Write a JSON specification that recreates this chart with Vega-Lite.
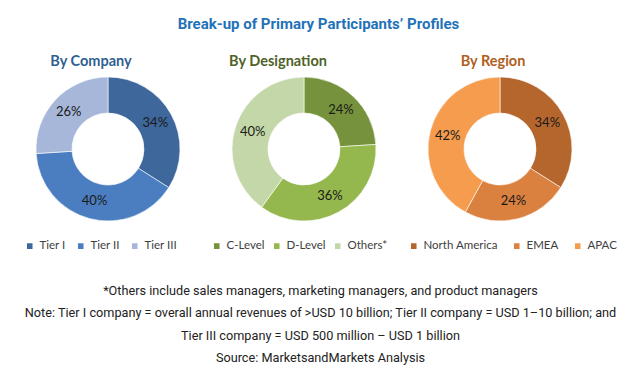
{
  "$schema": "https://vega.github.io/schema/vega-lite/v6.json",
  "background": "white",
  "padding": {"left": 18, "top": 16, "right": 5, "bottom": 5},
  "title": {
    "text": "Break-up of Primary Participants’ Profiles",
    "font": "Roboto",
    "fontSize": 15,
    "fontWeight": "bold",
    "color": "#1F72B8",
    "anchor": "middle",
    "frame": "bounds",
    "dx": 1,
    "offset": 22
  },
  "vconcat": [
    {
      "bounds": "flush",
      "spacing": 16,
      "resolve": {"scale": {"color": "independent", "theta": "independent"}, "legend": {"color": "independent"}},
      "title": {
        "text": [
          "*Others include sales managers, marketing managers, and product managers",
          "Note: Tier I company = overall annual revenues of >USD 10 billion; Tier II company = USD 1–10 billion; and",
          "Tier III company = USD 500 million – USD 1 billion",
          "Source: MarketsandMarkets Analysis"
        ],
        "orient": "bottom",
        "anchor": "middle",
        "frame": "bounds",
        "dx": 3,
        "offset": 32,
        "lineHeight": 22.3,
        "font": "Roboto",
        "fontSize": 12.7,
        "fontWeight": "normal",
        "color": "#222222"
      },
      "hconcat": [
        {
          "width": 180,
          "height": 150,
          "title": {"text": "By Company", "color": "#2F5F92", "dx": -17, "frame": "group"},
          "data": {"values": [
            {"tier": "Tier I", "share": 0.34},
            {"tier": "Tier II", "share": 0.40},
            {"tier": "Tier III", "share": 0.26}
          ]},
          "encoding": {
            "theta": {"field": "share", "type": "quantitative", "stack": true},
            "order": {"field": "tier", "sort": "ascending"}
          },
          "layer": [
            {
              "mark": {"type": "arc", "innerRadius": 36, "outerRadius": 72, "stroke": "#ffffff", "strokeWidth": 0.6},
              "encoding": {
                "color": {"field": "tier", "type": "nominal",
                  "scale": {"domain": ["Tier I", "Tier II", "Tier III"], "range": ["#3E679C", "#4A7EC0", "#A6B7DA"]},
                  "legend": {"title": null, "orient": "none", "legendX": 6, "legendY": 166, "columnPadding": 8}}
              }
            },
            {
              "mark": {"type": "text", "radius": 54, "font": "Lato", "fontSize": 13, "color": "#1a1a1a"},
              "encoding": {"text": {"field": "share", "type": "quantitative", "format": ".0%"}}
            }
          ]
        },
        {
          "width": 180,
          "height": 150,
          "title": {"text": "By Designation", "color": "#4F6228", "dx": -26, "frame": "group"},
          "data": {"values": [
            {"level": "C-Level", "share": 0.24},
            {"level": "D-Level", "share": 0.36},
            {"level": "Others*", "share": 0.40}
          ]},
          "encoding": {
            "theta": {"field": "share", "type": "quantitative", "stack": true},
            "order": {"field": "level", "sort": "ascending"}
          },
          "layer": [
            {
              "mark": {"type": "arc", "innerRadius": 36, "outerRadius": 72, "stroke": "#ffffff", "strokeWidth": 0.6},
              "encoding": {
                "color": {"field": "level", "type": "nominal",
                  "scale": {"domain": ["C-Level", "D-Level", "Others*"], "range": ["#76923C", "#94B84E", "#C4D7A8"]},
                  "legend": {"title": null, "orient": "none", "legendX": -3, "legendY": 166, "columnPadding": 5}}
              }
            },
            {
              "mark": {"type": "text", "radius": 54, "font": "Lato", "fontSize": 13, "color": "#1a1a1a"},
              "encoding": {"text": {"field": "share", "type": "quantitative", "format": ".0%"}}
            }
          ]
        },
        {
          "width": 180,
          "height": 150,
          "title": {"text": "By Region", "color": "#B0601E", "dx": -7, "frame": "group"},
          "data": {"values": [
            {"region": "North America", "share": 0.34},
            {"region": "EMEA", "share": 0.24},
            {"region": "APAC", "share": 0.42}
          ]},
          "encoding": {
            "theta": {"field": "share", "type": "quantitative", "stack": true},
            "order": {"field": "region", "sort": "descending"}
          },
          "layer": [
            {
              "mark": {"type": "arc", "innerRadius": 36, "outerRadius": 72, "stroke": "#ffffff", "strokeWidth": 0.6},
              "encoding": {
                "color": {"field": "region", "type": "nominal",
                  "scale": {"domain": ["North America", "EMEA", "APAC"], "range": ["#B5662D", "#DB8140", "#F59C4F"]},
                  "legend": {"title": null, "orient": "none", "legendX": -2, "legendY": 166, "columnPadding": 12}}
              }
            },
            {
              "mark": {"type": "text", "radius": 54, "font": "Lato", "fontSize": 13, "color": "#1a1a1a"},
              "encoding": {"text": {"field": "share", "type": "quantitative", "format": ".0%"}}
            }
          ]
        }
      ]
    }
  ],
  "config": {
    "view": {"stroke": null},
    "title": {"font": "Lato", "fontSize": 14.5, "fontWeight": "bold", "offset": 5},
    "legend": {
      "direction": "horizontal",
      "symbolType": "square",
      "symbolSize": 50,
      "labelFont": "Lato",
      "labelFontSize": 11.5,
      "labelColor": "#404040",
      "labelOffset": 4
    }
  }
}
